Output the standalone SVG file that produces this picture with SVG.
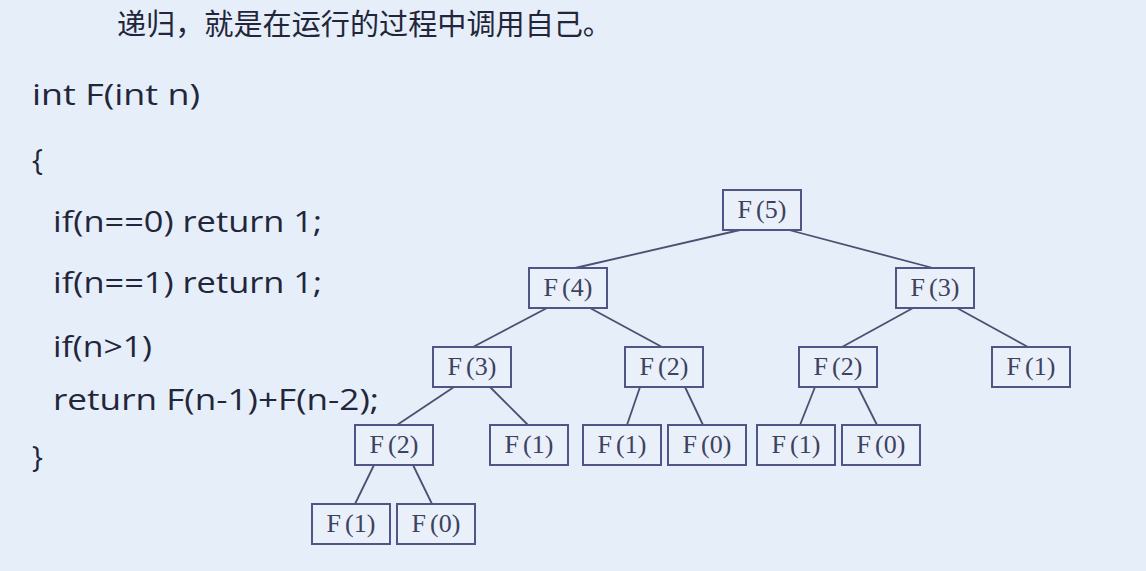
<svg xmlns="http://www.w3.org/2000/svg" width="1146" height="571" viewBox="0 0 1146 571">
<style>
.bg{fill:#e6eef9}
.box{fill:#e9f0fa;stroke:#4d5684;stroke-width:2}
.lbl{font-family:"Liberation Serif","DejaVu Serif",serif;font-size:26px;fill:#3d425e;text-anchor:middle}
.code{font-family:"Open Sans","Liberation Sans",sans-serif;font-size:29px;fill:#23263a}
.title{font-family:"Noto Sans CJK SC",sans-serif;font-size:29px;fill:#23263a}
.edge{stroke:#4a5070;stroke-width:1.8;fill:none}
</style>
<rect class="bg" x="0" y="0" width="1146" height="571"/>
<g id="title"><text class="title" x="117" y="35" textLength="495" lengthAdjust="spacingAndGlyphs">递归，就是在运行的过程中调用自己。</text></g>
<g id="code">
<text class="code" x="32" y="105" textLength="168" lengthAdjust="spacingAndGlyphs">int  F(int n)</text>
<text class="code" x="32" y="170">{</text>
<text class="code" x="53" y="232" textLength="269" lengthAdjust="spacingAndGlyphs">if(n==0) return  1;</text>
<text class="code" x="53" y="293" textLength="269" lengthAdjust="spacingAndGlyphs">if(n==1) return  1;</text>
<text class="code" x="53" y="357" textLength="99" lengthAdjust="spacingAndGlyphs">if(n&gt;1)</text>
<text class="code" x="53" y="410" textLength="326" lengthAdjust="spacingAndGlyphs">return  F(n-1)+F(n-2);</text>
<text class="code" x="32" y="467">}</text>
</g>
<g id="connectors">
<line class="edge" x1="740" y1="230" x2="575" y2="268"/>
<line class="edge" x1="789" y1="230" x2="933" y2="268"/>
<line class="edge" x1="547" y1="308" x2="473" y2="347"/>
<line class="edge" x1="590" y1="308" x2="662" y2="347"/>
<line class="edge" x1="913" y1="308" x2="842" y2="347"/>
<line class="edge" x1="957" y1="308" x2="1028" y2="347"/>
<line class="edge" x1="454" y1="387" x2="397" y2="425"/>
<line class="edge" x1="490" y1="387" x2="528" y2="425"/>
<line class="edge" x1="640" y1="387" x2="627" y2="425"/>
<line class="edge" x1="685" y1="387" x2="703" y2="425"/>
<line class="edge" x1="815" y1="387" x2="800" y2="425"/>
<line class="edge" x1="858" y1="387" x2="877" y2="425"/>
<line class="edge" x1="374" y1="465" x2="355" y2="504"/>
<line class="edge" x1="413" y1="465" x2="432" y2="504"/>
</g>
<g id="n5"><rect class="box" x="723" y="190" width="78" height="40"/><text class="lbl" x="762" y="218">F<tspan dx="4">(5)</tspan></text></g>
<g id="n4"><rect class="box" x="529" y="268" width="78" height="40"/><text class="lbl" x="568" y="296">F<tspan dx="4">(4)</tspan></text></g>
<g id="n3r"><rect class="box" x="896" y="268" width="78" height="40"/><text class="lbl" x="935" y="296">F<tspan dx="4">(3)</tspan></text></g>
<g id="n3l"><rect class="box" x="433" y="347" width="78" height="40"/><text class="lbl" x="472" y="375">F<tspan dx="4">(3)</tspan></text></g>
<g id="n2m"><rect class="box" x="625" y="347" width="78" height="40"/><text class="lbl" x="664" y="375">F<tspan dx="4">(2)</tspan></text></g>
<g id="n2r"><rect class="box" x="799" y="347" width="78" height="40"/><text class="lbl" x="838" y="375">F<tspan dx="4">(2)</tspan></text></g>
<g id="n1r"><rect class="box" x="992" y="347" width="78" height="40"/><text class="lbl" x="1031" y="375">F<tspan dx="4">(1)</tspan></text></g>
<g id="n2l"><rect class="box" x="355" y="425" width="78" height="40"/><text class="lbl" x="394" y="453">F<tspan dx="4">(2)</tspan></text></g>
<g id="n1a"><rect class="box" x="490" y="425" width="78" height="40"/><text class="lbl" x="529" y="453">F<tspan dx="4">(1)</tspan></text></g>
<g id="n1b"><rect class="box" x="583" y="425" width="78" height="40"/><text class="lbl" x="622" y="453">F<tspan dx="4">(1)</tspan></text></g>
<g id="n0b"><rect class="box" x="668" y="425" width="78" height="40"/><text class="lbl" x="707" y="453">F<tspan dx="4">(0)</tspan></text></g>
<g id="n1c"><rect class="box" x="757" y="425" width="78" height="40"/><text class="lbl" x="796" y="453">F<tspan dx="4">(1)</tspan></text></g>
<g id="n0c"><rect class="box" x="842" y="425" width="78" height="40"/><text class="lbl" x="881" y="453">F<tspan dx="4">(0)</tspan></text></g>
<g id="n1d"><rect class="box" x="312" y="504" width="78" height="40"/><text class="lbl" x="351" y="532">F<tspan dx="4">(1)</tspan></text></g>
<g id="n0d"><rect class="box" x="397" y="504" width="78" height="40"/><text class="lbl" x="436" y="532">F<tspan dx="4">(0)</tspan></text></g>
</svg>
